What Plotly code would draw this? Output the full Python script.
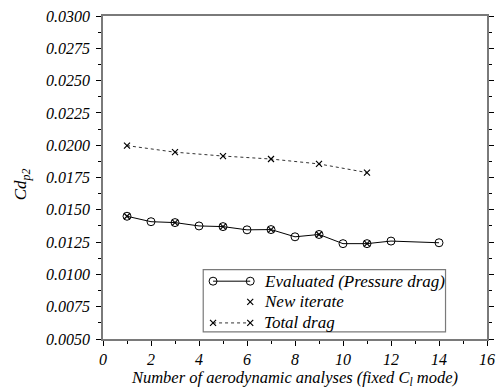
import plotly.graph_objects as go

# Pressure drag of each aerodynamic analysis (fixed C_l mode)
analysis_no = [1, 2, 3, 4, 5, 6, 7, 8, 9, 10, 11, 12, 14]
cd_evaluated = [0.01450, 0.01408, 0.01401, 0.01375, 0.01370, 0.01345, 0.01347,
                0.01291, 0.01309, 0.01238, 0.01238, 0.01258, 0.01245]

# New iterates (odd analyses)
iter_no = [1, 3, 5, 7, 9, 11]
cd_iterate = [0.01450, 0.01401, 0.01370, 0.01347, 0.01309, 0.01238]

# Total drag at each new iterate
cd_total = [0.01997, 0.01946, 0.01916, 0.01893, 0.01855, 0.01788]

legend_labels = ["Evaluated (Pressure drag)", "New iterate", "Total drag"]


def serif(size):
    return dict(family="Liberation Serif", size=size, color="black", style="italic")


AXIS_GRAY = "#7a7a7a"
X_MARK = dict(symbol="x-thin", size=6, color="black", line=dict(width=1.2, color="black"))
O_MARK = dict(symbol="circle-open", size=8, color="black", line=dict(width=1))

fig = go.Figure()

fig.add_trace(go.Scatter(
    x=analysis_no, y=cd_evaluated, mode="lines+markers",
    line=dict(color="black", width=1), marker=O_MARK, showlegend=False))
fig.add_trace(go.Scatter(
    x=iter_no, y=cd_iterate, mode="markers", marker=X_MARK, showlegend=False))
fig.add_trace(go.Scatter(
    x=iter_no, y=cd_total, mode="lines+markers",
    line=dict(color="#333", width=1, dash="dot"), marker=X_MARK, showlegend=False))

# Hand-drawn legend on an overlay axis spanning the plot area (0..1)
rows_y = [0.179, 0.1147, 0.0498]
sx0, sx1, tx = 0.2866, 0.3834, 0.414
fig.add_trace(go.Scatter(
    x=[sx0, sx1], y=[rows_y[0]] * 2, xaxis="x2", yaxis="y2", mode="lines+markers",
    line=dict(color="black", width=1), marker=O_MARK,
    showlegend=False, hoverinfo="skip"))
fig.add_trace(go.Scatter(
    x=[sx1], y=[rows_y[1]], xaxis="x2", yaxis="y2", mode="markers", marker=X_MARK,
    showlegend=False, hoverinfo="skip"))
fig.add_trace(go.Scatter(
    x=[sx0, sx1], y=[rows_y[2]] * 2, xaxis="x2", yaxis="y2", mode="lines+markers",
    line=dict(color="#333", width=1, dash="dot"), marker=X_MARK,
    showlegend=False, hoverinfo="skip"))

for label, ry in zip(legend_labels, rows_y):
    fig.add_annotation(x=tx, y=ry, xref="x2", yref="y2", text=label,
                       showarrow=False, xanchor="left", yanchor="middle", font=serif(17))

fig.add_shape(type="rect", xref="paper", yref="paper",
              x0=0.261, x1=0.892, y0=0.022, y1=0.2147,
              line=dict(color=AXIS_GRAY, width=1.2), fillcolor="white", layer="below")

# y-axis title
fig.add_annotation(x=-0.21, y=0.48, xref="paper", yref="paper", text="Cd<sub>p2</sub>",
                   textangle=-90, showarrow=False, xanchor="center", yanchor="middle",
                   font=serif(17))

fig.update_layout(
    width=503, height=390,
    margin=dict(l=103, r=8, t=16, b=48),
    paper_bgcolor="white", plot_bgcolor="white",
    font=serif(16),
    xaxis=dict(
        range=[0, 16], dtick=2, tick0=0, showgrid=False, zeroline=False,
        showline=True, linecolor=AXIS_GRAY, linewidth=1.5, mirror=True,
        ticks="outside", ticklen=5, tickwidth=1, tickcolor="black",
        minor=dict(dtick=1, ticks="outside", ticklen=3, tickcolor="black"),
        tickfont=serif(16),
        title=dict(text="Number of aerodynamic analyses (fixed C<sub>l</sub> mode)",
                   font=serif(16.5), standoff=2),
    ),
    yaxis=dict(
        range=[0.005, 0.030], dtick=0.0025, tick0=0.005, tickformat=".4f",
        showgrid=False, zeroline=False,
        showline=True, linecolor=AXIS_GRAY, linewidth=1.5, mirror="ticks",
        ticks="outside", ticklen=5, tickwidth=1, tickcolor="black",
        minor=dict(dtick=0.00125, ticks="outside", ticklen=3, tickcolor="black"),
        tickfont=serif(16), ticklabelstandoff=3,
    ),
    xaxis2=dict(range=[0, 1], overlaying="x", anchor="y2", visible=False, fixedrange=True),
    yaxis2=dict(range=[0, 1], overlaying="y", anchor="x2", visible=False, fixedrange=True),
)

fig.write_html("out.html")
